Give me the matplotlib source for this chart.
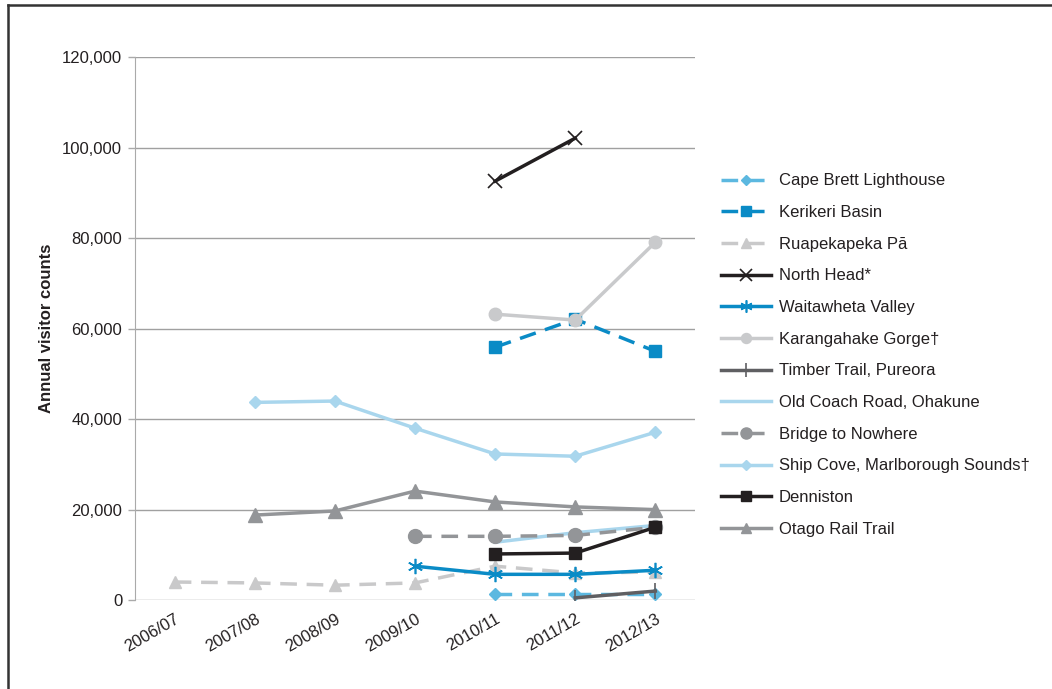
import matplotlib
matplotlib.use("Agg")
import matplotlib.pyplot as plt
from matplotlib.lines import Line2D
import numpy as np

plt.rcParams['font.family'] = ['Liberation Sans', 'DejaVu Sans']

years = ["2006/07", "2007/08", "2008/09", "2009/10", "2010/11", "2011/12", "2012/13"]
N = None

cape_brett = [N, N, N, N, 1300, 1300, 1300]
kerikeri = [N, N, N, N, 55900, 62100, 55000]
ruapekapeka = [4000, 3800, 3300, 3800, 7500, 6000, 6200]
north_head = [N, N, N, N, 92600, 102100, N]
waitawheta = [N, N, N, 7500, 5700, 5700, 6600]
karangahake = [N, N, N, N, 63200, 61900, 79100]
timber_trail = [N, N, N, N, N, 500, 2000]
old_coach = [N, N, N, N, 12800, 14900, 16500]
bridge = [N, N, N, 14100, 14100, 14300, 16100]
ship_cove = [N, 43700, 44000, 38000, 32300, 31800, 37100]
denniston = [N, N, N, N, 10200, 10400, 16100]
otago = [N, 18800, 19700, 24100, 21700, 20600, 20000]

dash = (0, (4.8, 2.8))
series = [
    ("Cape Brett Lighthouse", cape_brett, dict(color="#5cb8e0", ls=dash, marker="D", ms=6.5)),
    ("Kerikeri Basin", kerikeri, dict(color="#0a8bc6", ls=dash, marker="s", ms=9)),
    ("Ruapekapeka P\u0101", ruapekapeka, dict(color="#c9c9ca", ls=dash, marker="^", ms=9)),
    ("North Head*", north_head, dict(color="#231f20", ls="-", marker="x", ms=10, mew=1.2)),
    ("Waitawheta Valley", waitawheta, dict(color="#0a8bc6", ls="-", marker=(6, 2, 0), ms=11, mew=1.2)),
    ("Karangahake Gorge\u2020", karangahake, dict(color="#c9cacc", ls="-", marker="o", ms=9)),
    ("Timber Trail, Pureora", timber_trail, dict(color="#5f5f62", ls="-", marker="|", ms=12, mew=1.2)),
    ("Old Coach Road, Ohakune", old_coach, dict(color="#a9d6ed", ls="-", marker=None, ms=0)),
    ("Bridge to Nowhere", bridge, dict(color="#939598", ls=dash, marker="o", ms=10)),
    ("Ship Cove, Marlborough Sounds\u2020", ship_cove, dict(color="#a9d6ed", ls="-", marker="D", ms=6.5)),
    ("Denniston", denniston, dict(color="#231f20", ls="-", marker="s", ms=9)),
    ("Otago Rail Trail", otago, dict(color="#939598", ls="-", marker="^", ms=9.5)),
]

fig = plt.figure(figsize=(10.52, 6.89), dpi=100)
ax = fig.add_axes([0.128, 0.129, 0.533, 0.788])

x = np.arange(len(years))
handles = []
for name, vals, st in series:
    y = np.array([np.nan if v is None else v for v in vals], dtype=float)
    kw = dict(color=st["color"], linestyle=st["ls"], linewidth=2.5)
    if st["marker"] is not None:
        kw.update(marker=st["marker"], markersize=st["ms"], markeredgecolor=st["color"],
                  markerfacecolor=st["color"], markeredgewidth=st.get("mew", 1))
    h, = ax.plot(x, y, label=name, **kw)
    handles.append(h)

ax.set_xlim(-0.5, 6.5)
ax.set_ylim(0, 120000)
ax.set_yticks(np.arange(0, 120001, 20000))
ax.set_yticklabels([f"{v:,}" for v in range(0, 120001, 20000)], fontsize=12, color="#231f20")
ax.set_xticks(x)
ax.set_xticklabels(years, rotation=30, ha="right", rotation_mode="anchor", fontsize=12, color="#231f20")
ax.tick_params(axis="x", length=0, pad=8)
ax.tick_params(axis="y", length=5, color="#aaaaaa", width=1, pad=4)
ax.grid(axis="y", color="#a0a0a0", linewidth=1)
ax.set_axisbelow(True)
for s in ["top", "right", "bottom"]:
    ax.spines[s].set_visible(False)
ax.spines["left"].set_color("#aaaaaa")
ax.set_ylabel("Annual visitor counts", fontsize=12, fontweight="bold", color="#231f20", labelpad=6)

leg = fig.legend(handles=handles, loc="upper left", bbox_to_anchor=(0.6715, 0.770),
                 frameon=False, fontsize=12, handlelength=3.0, labelspacing=1.0,
                 handletextpad=0.45, labelcolor="#231f20")
for lh in leg.legend_handles:
    ms = lh.get_markersize()
    lh.set_markersize(ms * 0.8)

# outer frame (top and left)
fig.add_artist(Line2D([0.008, 1.0], [0.993, 0.993], transform=fig.transFigure, color="#333333", lw=1.8))
fig.add_artist(Line2D([0.008, 0.008], [0.0, 0.993], transform=fig.transFigure, color="#333333", lw=1.8))

fig.savefig("out.png", dpi=100)
